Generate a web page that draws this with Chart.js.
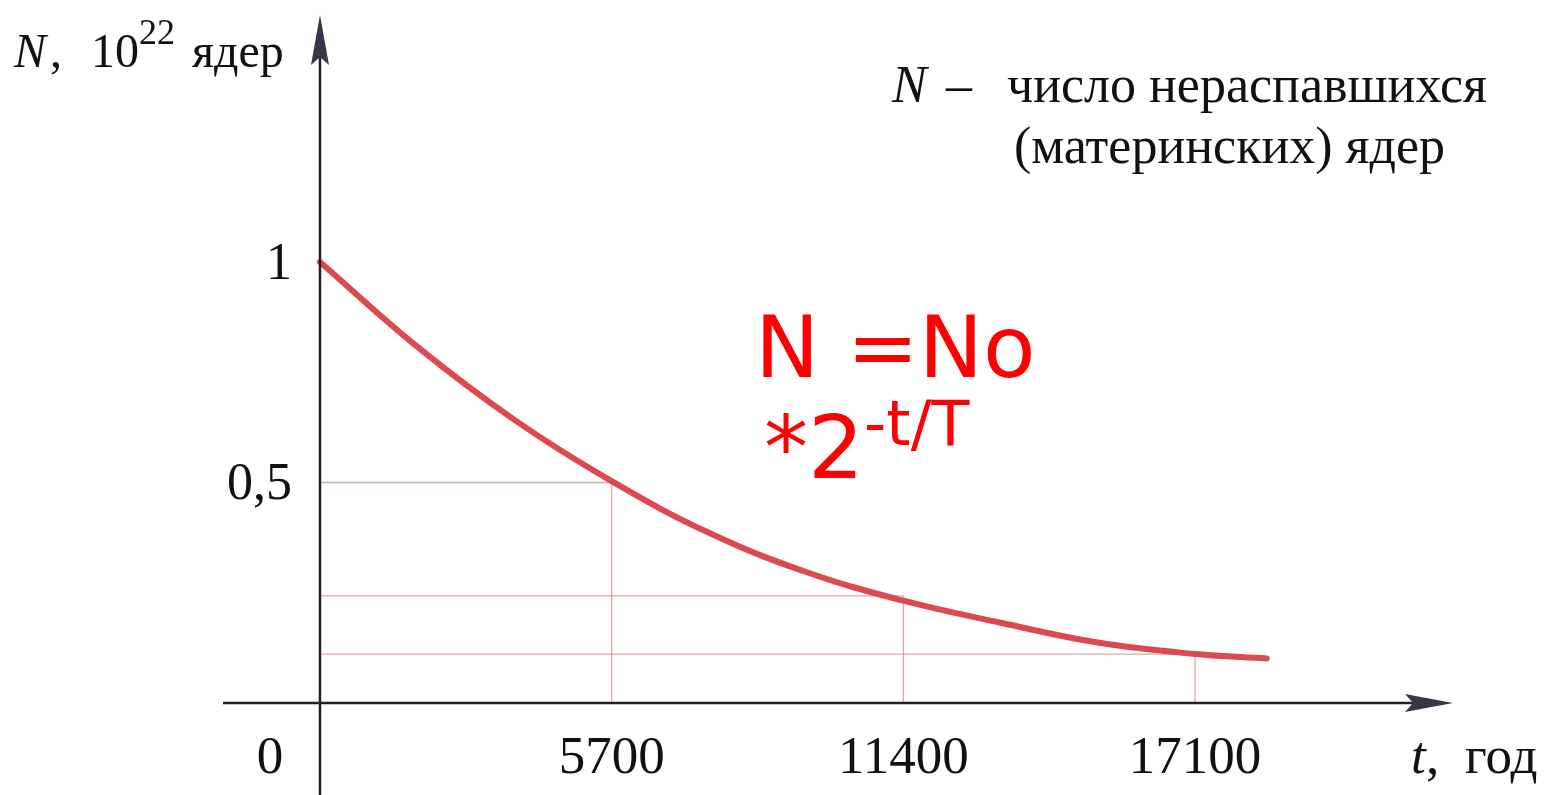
<!DOCTYPE html>
<html>
<head>
<meta charset="utf-8">
<script src="https://cdn.jsdelivr.net/npm/chart.js@4"></script>
<style>
  html, body { margin: 0; padding: 0; background: #fff; }
  canvas { display: block; }
</style>
</head>
<body>
<canvas id="decayChart" width="1556" height="795"></canvas>
<script>
// years since start and remaining nuclei (in 10^22)
var years = [0, 1900, 3800, 5700, 7600, 9500, 11400, 13300, 15200, 17100, 18500]
var nuclei = [1.0, 0.808, 0.642, 0.503, 0.386, 0.297, 0.232, 0.182, 0.137, 0.111, 0.101]

// half-life guide lines
var guideYears = [5700, 11400, 17100]
var guideLevels = [0.5, 0.243, 0.111]

// tick labels
var xTicks = [5700, 11400, 17100]
var xTickLabels = ['5700', '11400', '17100']
var yTicks = [1, 0.5]
var yTickLabels = ['1', '0,5']

var serif = '"Liberation Serif", "Times New Roman", serif'
var sans = '"DejaVu Sans", Verdana, sans-serif'

var curvePoints = years.map(function (t, i) { return {x: t, y: nuclei[i]} })

var guideSets = guideYears.map(function (t, i) {
  return {
    data: [{x: 0, y: guideLevels[i]}, {x: t, y: guideLevels[i]}, {x: t, y: 0}],
    borderColor: 'rgba(205, 120, 125, 0.65)',
    borderWidth: 1.3,
    pointRadius: 0,
    tension: 0,
    order: 1
  }
})

var decor = {
  id: 'decor',
  afterDatasetsDraw: function (chart) {
    var ctx = chart.ctx, a = chart.chartArea
    var sx = chart.scales.x, sy = chart.scales.y
    var x0 = sx.getPixelForValue(0), y0 = sy.getPixelForValue(0)
    ctx.save()
    // axes
    ctx.strokeStyle = '#202020'
    ctx.lineWidth = 2.5
    ctx.beginPath()
    ctx.moveTo(x0, a.bottom); ctx.lineTo(x0, a.top + 30)
    ctx.moveTo(a.left, y0); ctx.lineTo(a.right - 30, y0)
    ctx.stroke()
    // arrow heads
    ctx.fillStyle = '#3a3548'
    ctx.beginPath()
    ctx.moveTo(x0, a.top); ctx.lineTo(x0 - 9, a.top + 50)
    ctx.lineTo(x0, a.top + 42); ctx.lineTo(x0 + 9, a.top + 50)
    ctx.closePath(); ctx.fill()
    ctx.beginPath()
    ctx.moveTo(a.right, y0); ctx.lineTo(a.right - 48, y0 - 9)
    ctx.lineTo(a.right - 40, y0); ctx.lineTo(a.right - 48, y0 + 9)
    ctx.closePath(); ctx.fill()

    // tick labels
    ctx.fillStyle = '#111'
    ctx.font = '52px ' + serif
    ctx.textAlign = 'right'
    yTicks.forEach(function (v, i) {
      ctx.fillText(yTickLabels[i], x0 - 28, sy.getPixelForValue(v) + 17)
    })
    ctx.font = '53px ' + serif
    ctx.textAlign = 'center'
    xTicks.forEach(function (v, i) {
      ctx.fillText(xTickLabels[i], sx.getPixelForValue(v), y0 + 70)
    })
    ctx.fillText('0', x0 - 50, y0 + 70)

    // axis titles
    ctx.textAlign = 'left'
    ctx.font = 'italic 48px ' + serif
    ctx.fillText('N', 14, 67)
    ctx.font = '48px ' + serif
    ctx.fillText(',', 50, 67)
    ctx.fillText('10', 91, 67)
    ctx.fillText('ядер', 192, 67)
    ctx.font = '36px ' + serif
    ctx.fillText('22', 139, 44)

    ctx.font = 'italic 53px ' + serif
    ctx.fillText('t', 1411, 773)
    ctx.font = '53px ' + serif
    ctx.fillText(',', 1426, 773)
    ctx.fillText('год', 1465, 773)

    // note in the top right
    ctx.font = 'italic 52px ' + serif
    ctx.fillText('N', 892, 102)
    ctx.font = '52px ' + serif
    ctx.fillText('–', 946, 102)
    ctx.fillText('число нераспавшихся', 1007, 102)
    ctx.fillText('(материнских) ядер', 1014, 163)

    // formula
    ctx.fillStyle = '#ff0000'
    ctx.font = '86px ' + sans
    ctx.fillText('N =No', 755, 377)
    ctx.font = '88px ' + sans
    ctx.fillText('*2', 764, 478)
    ctx.font = '62px ' + sans
    ctx.fillText('-t/T', 864, 445)
    ctx.restore()
  }
}

var chart = new Chart(document.getElementById('decayChart'), {
  type: 'line',
  data: {
    datasets: [{
      data: curvePoints,
      borderColor: '#dc4a50',
      borderWidth: 6,
      borderCapStyle: 'round',
      pointRadius: 0,
      tension: 0.4,
      order: 0
    }].concat(guideSets)
  },
  options: {
    responsive: false,
    animation: false,
    devicePixelRatio: 1,
    layout: {padding: {left: 223, right: 103, top: 15, bottom: 0}},
    plugins: {legend: {display: false}, tooltip: {enabled: false}},
    scales: {
      x: {type: 'linear', min: -1895, max: 22140, display: false},
      y: {type: 'linear', min: -0.2086, max: 1.560, display: false}
    }
  },
  plugins: [decor]
})
</script>
</body>
</html>
